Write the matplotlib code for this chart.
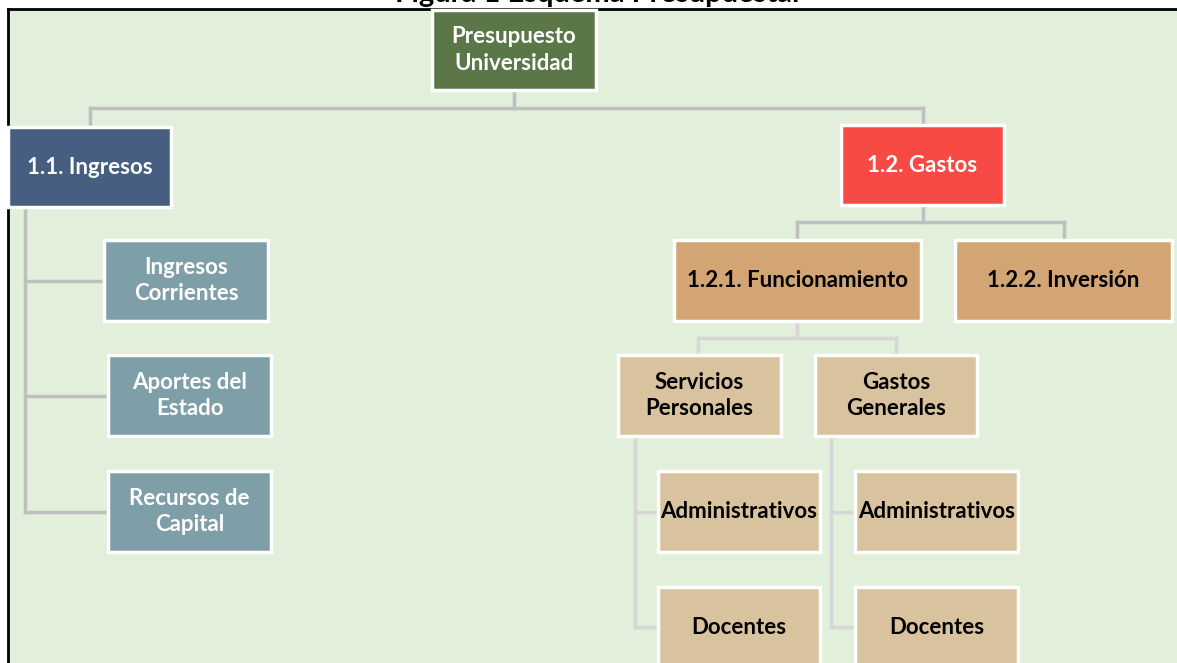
import matplotlib
matplotlib.use("Agg")
import matplotlib.pyplot as plt
from matplotlib.patches import Rectangle

# Textos del esquema
titulo = "Figura 1 Esquema Presupuestal"
nodos = ["Presupuesto\nUniversidad", "1.1. Ingresos", "1.2. Gastos",
         "Ingresos\nCorrientes", "Aportes del\nEstado", "Recursos de\nCapital",
         "1.2.1. Funcionamiento", "1.2.2. Inversión",
         "Servicios\nPersonales", "Gastos\nGenerales",
         "Administrativos", "Docentes", "Administrativos", "Docentes"]

# Posiciones de las cajas en pixeles: (x0, y0, x1, y1)
cajas = [(432, 10, 596, 90), (8, 127, 171, 207), (841, 125, 1004, 205),
         (104, 240, 268, 321), (108, 355, 271, 436), (108, 471, 271, 552),
         (674, 240, 921, 321), (955, 240, 1172, 321),
         (618, 355, 781, 436), (815, 355, 977, 436),
         (658, 471, 820, 552), (658, 587, 820, 668),
         (855, 471, 1018, 552), (855, 587, 1018, 668)]

colores = ["#5B7647", "#465F81", "#F84A44",
           "#7F9FA8", "#7F9FA8", "#7F9FA8",
           "#D4A574", "#D4A574",
           "#D9C39F", "#D9C39F",
           "#D9C39F", "#D9C39F", "#D9C39F", "#D9C39F"]
color_texto = ["white"] * 6 + ["black"] * 8

fig = plt.figure(figsize=(11.77, 6.63), dpi=100)
ax = fig.add_axes([0, 0, 1, 1])
ax.set_xlim(0, 1177)
ax.set_ylim(663, 0)
ax.axis("off")
fig.patch.set_facecolor("white")

# fondo y marco
ax.add_patch(Rectangle((8, 9), 1200, 700, facecolor="#E2EFDA", edgecolor="none", zorder=0))
ax.plot([8, 1177], [9, 9], color="black", lw=2, zorder=1)
ax.plot([8, 8], [9, 663], color="black", lw=2, zorder=1)

# el titulo aparece recortado en la parte superior
ax.text(597, 2, titulo, ha="center", va="baseline", fontsize=21, fontweight="bold",
        family="Lato", color="black", zorder=1)

# conectores
gris = "#BFBFBF"
gris2 = "#D6D6D6"
lineas = [
    ([514, 514], [90, 108], gris), ([90, 923], [108, 108], gris),
    ([90, 90], [108, 127], gris), ([923, 923], [108, 125], gris),
    ([25, 25], [207, 512], gris),
    ([25, 104], [281, 281], gris), ([25, 108], [396, 396], gris), ([25, 108], [512, 512], gris),
    ([923, 923], [205, 222], gris), ([797, 1064], [222, 222], gris),
    ([797, 797], [222, 240], gris), ([1064, 1064], [222, 240], gris),
    ([797, 797], [321, 338], gris2), ([698, 896], [338, 338], gris2),
    ([698, 698], [338, 355], gris2), ([896, 896], [338, 355], gris2),
    ([635, 635], [436, 627], gris2), ([635, 658], [512, 512], gris2), ([635, 658], [627, 627], gris2),
    ([831, 831], [436, 627], gris2), ([831, 855], [512, 512], gris2), ([831, 855], [627, 627], gris2),
]
for xs, ys, c in lineas:
    ax.plot(xs, ys, color=c, lw=2.5, solid_capstyle="projecting", zorder=2)

# cajas
for texto, (x0, y0, x1, y1), col, ct in zip(nodos, cajas, colores, color_texto):
    ax.add_patch(Rectangle((x0, y0), x1 - x0, y1 - y0, facecolor=col,
                           edgecolor="white", lw=2.5, zorder=3))
    ax.text((x0 + x1) / 2, (y0 + y1) / 2, texto, ha="center", va="center",
            fontsize=16, fontweight="bold", family="Lato", color=ct,
            linespacing=1.35, zorder=4)

fig.savefig("out.png", dpi=100)
